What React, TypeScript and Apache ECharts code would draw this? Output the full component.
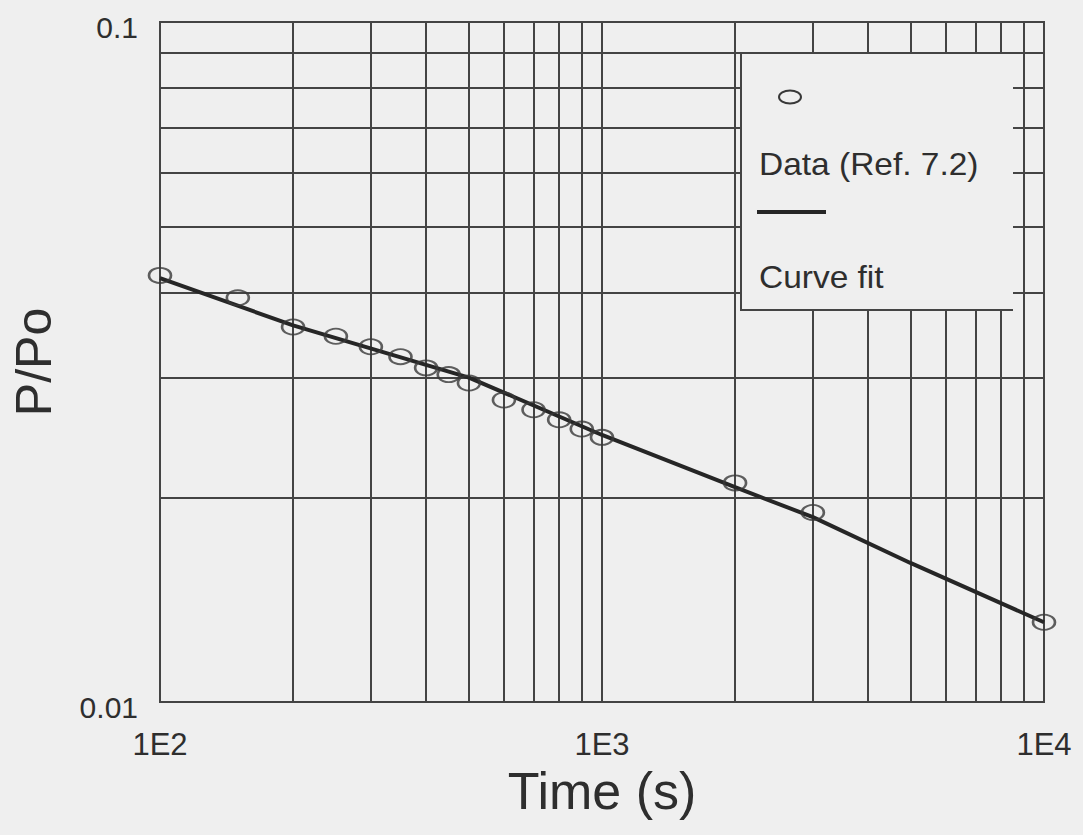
import React, { useEffect, useRef } from "react";
import * as echarts from "echarts";

// Measured data (time in s, P/Po)
const timeData = [100, 150, 200, 250, 300, 350, 400, 450, 500, 600, 700, 800, 900, 1000, 2000, 3000, 10000];
const ratioData = [0.0424, 0.0393, 0.0356, 0.0345, 0.0333, 0.0322, 0.031, 0.0303, 0.02945, 0.0278, 0.0269, 0.026, 0.0252, 0.0245, 0.021, 0.019, 0.0131];

// Curve fit
const fitTime = [100, 200, 500, 1000, 2000, 3000, 5000, 10000];
const fitRatio = [0.042, 0.0358, 0.03, 0.0247, 0.0207, 0.0187, 0.016, 0.0131];

// Log grid lines
const xGridValues = [200, 300, 400, 500, 600, 700, 800, 900, 1000, 2000, 3000, 4000, 5000, 6000, 7000, 8000, 9000];
const yGridValues = [0.02, 0.03, 0.04, 0.05, 0.06, 0.07, 0.08, 0.09];

const legendLabels = ["Data (Ref. 7.2)", "Curve fit"];

const FONT = "'Liberation Sans', Arial, Helvetica, sans-serif";
const INK = "#2e2e2e";
const GRID_INK = "#444444";
const BG = "#efefef";

export default function App() {
  const ref = useRef<HTMLDivElement>(null);

  useEffect(() => {
    if (!ref.current) return;
    const chart = echarts.init(ref.current, undefined, { renderer: "svg" });

    const gridMarks = [
      ...xGridValues.map((v) => ({ xAxis: v })),
      ...yGridValues.map((v) => ({ yAxis: v })),
    ];

    const Z = 200;

    chart.setOption({
      animation: false,
      backgroundColor: BG,
      grid: {
        left: 160,
        right: 39,
        top: 22,
        bottom: 133,
        show: true,
        borderColor: GRID_INK,
        borderWidth: 2,
        backgroundColor: "transparent",
      },
      xAxis: {
        type: "log",
        logBase: 10,
        min: 100,
        max: 10000,
        name: "Time (s)",
        nameLocation: "middle",
        nameGap: 57,
        nameTextStyle: { fontSize: 52, color: INK, fontFamily: FONT },
        axisLine: { show: false },
        axisTick: { show: false },
        splitLine: { show: false },
        axisLabel: {
          fontSize: 31,
          color: INK,
          fontFamily: FONT,
          margin: 27,
          formatter: (v: number) => "1E" + Math.round(Math.log10(v)),
        },
      },
      yAxis: {
        type: "log",
        logBase: 10,
        min: 0.01,
        max: 0.1,
        name: "P/Po",
        nameLocation: "middle",
        nameGap: 101,
        nameTextStyle: { fontSize: 50, color: INK, fontFamily: FONT },
        axisLine: { show: false },
        axisTick: { show: false },
        splitLine: { show: false },
        axisLabel: {
          fontSize: 30,
          color: INK,
          fontFamily: FONT,
          margin: 22,
          verticalAlign: "top",
          lineHeight: 10,
          formatter: (v: number) => String(+Number(v).toPrecision(2)),
        },
      },
      series: [
        {
          name: "grid",
          type: "line",
          data: [],
          z: 1,
          silent: true,
          markLine: {
            silent: true,
            z: 1,
            symbol: ["none", "none"],
            label: { show: false },
            lineStyle: { type: "solid", color: GRID_INK, width: 2 },
            emphasis: { disabled: true },
            data: gridMarks,
          },
        },
        {
          name: legendLabels[1],
          type: "line",
          data: fitTime.map((t, i) => [t, fitRatio[i]]),
          showSymbol: false,
          symbol: "none",
          lineStyle: { color: "#262626", width: 4 },
          z: 3,
        },
        {
          name: legendLabels[0],
          type: "scatter",
          data: timeData.map((t, i) => [t, ratioData[i]]),
          symbol: "circle",
          symbolSize: [22, 15],
          itemStyle: { color: "transparent", borderColor: "#383838", borderWidth: 2.2 },
          z: 4,
        },
      ],
      graphic: [
        {
          type: "rect",
          z: Z,
          shape: { x: 740, y: 53, width: 273, height: 257 },
          style: { fill: BG, stroke: "none" },
        },
        {
          type: "line",
          z: Z + 1,
          shape: { x1: 741, y1: 52, x2: 741, y2: 311 },
          style: { stroke: GRID_INK, lineWidth: 2 },
        },
        {
          type: "line",
          z: Z + 1,
          shape: { x1: 740, y1: 310, x2: 1013, y2: 310 },
          style: { stroke: GRID_INK, lineWidth: 2 },
        },
        {
          type: "line",
          z: Z + 1,
          shape: { x1: 740, y1: 53, x2: 1013, y2: 53 },
          style: { stroke: GRID_INK, lineWidth: 2 },
        },
        {
          type: "ellipse",
          z: Z + 1,
          shape: { cx: 790, cy: 97, rx: 11, ry: 6.5 },
          style: { fill: "none", stroke: "#383838", lineWidth: 2 },
        },
        {
          type: "text",
          z: Z + 1,
          x: 759,
          y: 164,
          scaleX: 1.08,
          style: {
            text: legendLabels[0],
            fontSize: 31,
            fontFamily: FONT,
            fill: INK,
            verticalAlign: "middle",
            align: "left",
          },
        },
        {
          type: "line",
          z: Z + 1,
          shape: { x1: 757, y1: 212, x2: 826, y2: 212 },
          style: { stroke: "#262626", lineWidth: 4 },
        },
        {
          type: "text",
          z: Z + 1,
          x: 759,
          y: 277,
          scaleX: 1.08,
          style: {
            text: legendLabels[1],
            fontSize: 31,
            fontFamily: FONT,
            fill: INK,
            verticalAlign: "middle",
            align: "left",
          },
        },
      ],
    });

    return () => chart.dispose();
  }, []);

  return (
    <div
      ref={ref}
      style={{ position: "fixed", left: 0, top: 0, width: 1083, height: 835 }}
    />
  );
}
